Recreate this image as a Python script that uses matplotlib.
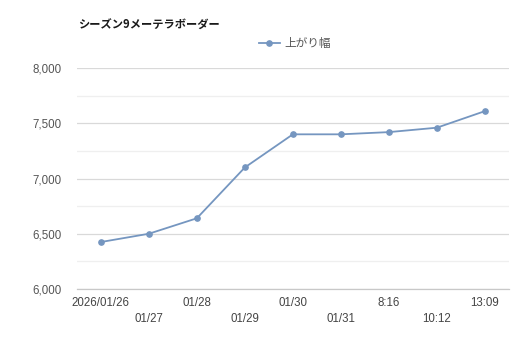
import matplotlib
matplotlib.use("Agg")
import matplotlib.pyplot as plt
from matplotlib.ticker import MultipleLocator, FuncFormatter

plt.rcParams['font.family'] = ['Noto Sans CJK JP', 'DejaVu Sans']

title = "シーズン9メーテラボーダー"
series_name = "上がり幅"
categories = ["2026/01/26", "01/27", "01/28", "01/29", "01/30",
              "01/31", "8:16", "10:12", "13:09"]
values = [6425, 6500, 6640, 7100, 7400, 7400, 7420, 7460, 7610]

line_color = "#7596c0"
tick_color = "#555555"

fig = plt.figure(figsize=(5.12, 3.41), dpi=100)
ax = fig.add_axes([0.150, 0.1525, 0.844, 0.648])

x = list(range(len(categories)))
ax.plot(x, values, color=line_color, lw=1.3, marker='o', ms=3.8,
        label=series_name, zorder=3)

ax.set_xlim(-0.5, len(categories) - 0.5)
ax.set_ylim(6000, 8000)
ax.yaxis.set_major_locator(MultipleLocator(500))
ax.yaxis.set_minor_locator(MultipleLocator(250))
ax.yaxis.set_major_formatter(FuncFormatter(lambda v, p: f"{int(v):,}"))
ax.grid(axis='y', which='major', color='#d9d9d9', lw=0.9)
ax.grid(axis='y', which='minor', color='#efefef', lw=0.9)
ax.set_axisbelow(True)

for s in ['top', 'right', 'left']:
    ax.spines[s].set_visible(False)
ax.spines['bottom'].set_color('#c8c8c8')
ax.spines['bottom'].set_linewidth(0.9)

ax.tick_params(axis='y', which='both', length=0, pad=11, labelsize=8.3,
               labelcolor=tick_color)
ax.tick_params(axis='x', length=0, pad=6, labelsize=8.3, labelcolor='#444444')

ax.set_xticks(x)
ax.set_xticklabels([c if i % 2 == 0 else "\n" + c
                    for i, c in enumerate(categories)], linespacing=1.4)
for lab in ax.get_xticklabels() + ax.get_yticklabels():
    lab.set_fontfamily(['Liberation Sans', 'DejaVu Sans'])

fig.text(78 / 512, 1 - 25 / 341, title, fontsize=8.1, fontweight='bold',
         va='center', ha='left', color='#1a1a1a')

leg = ax.legend(loc='center', bbox_to_anchor=(295 / 512, 1 - 44 / 341),
                bbox_transform=fig.transFigure, frameon=False, fontsize=8.4,
                handlelength=1.8, handletextpad=0.4, borderpad=0)
for t in leg.get_texts():
    t.set_color(tick_color)

fig.savefig("out.png", dpi=100, facecolor='white')
